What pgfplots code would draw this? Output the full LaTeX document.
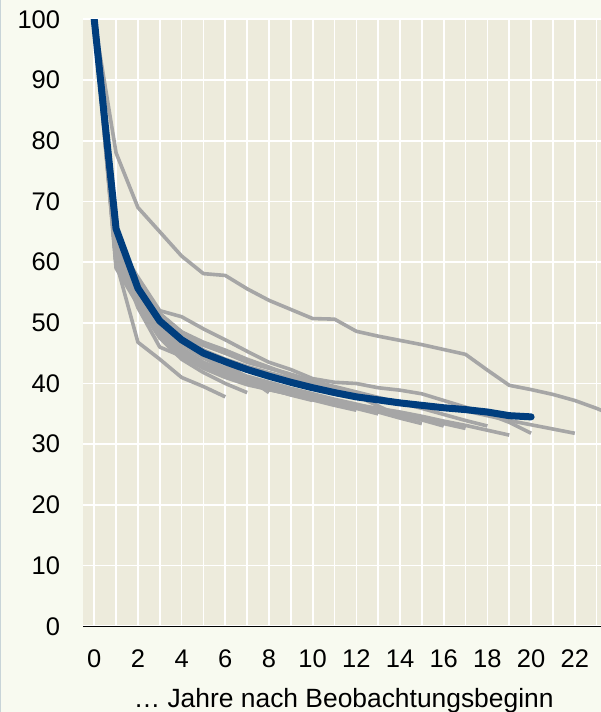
\documentclass[border=0pt]{standalone}
\usepackage{fontspec}
\setmainfont{Liberation Sans}
\usepackage{pgfplots}
\pgfplotsset{compat=1.18}

\definecolor{outerbg}{RGB}{248,250,240}
\definecolor{plotbg}{RGB}{237,235,220}
\definecolor{grayline}{RGB}{166,166,166}
\definecolor{meanblue}{RGB}{0,62,126}
\definecolor{edgeline}{RGB}{200,212,216}
\definecolor{baseline}{RGB}{214,214,214}

\pgfplotsset{
  coh/.style={draw=grayline, line width=3.6pt, line join=round, no marks},
}

\begin{document}
\begin{tikzpicture}
% page = 601 x 712, plot area 517.7 x 607
\path[use as bounding box, fill=outerbg] (-83.3pt,-85.7pt) rectangle (517.7pt,626.3pt);
\draw[edgeline, line width=1.5pt] (-82.55pt,-85.7pt) -- (-82.55pt,626.3pt);
\begin{axis}[
  at={(0,0)}, anchor=south west,
  scale only axis, width=517.7pt, height=607pt,
  xmin=-0.5, xmax=23.2, ymin=0, ymax=100,
  axis line style={draw=none},
  axis background/.style={fill=plotbg},
  xtick={0,2,...,22}, minor xtick={1,3,...,23},
  ytick={0,10,...,100},
  grid=both,
  major grid style={draw=white, line width=1.7pt},
  minor grid style={draw=white, line width=1.7pt},
  major tick length=0pt, minor tick length=0pt,
  /pgf/number format/assume math mode=true,
  tick label style={font=\fontsize{25.5}{30}\selectfont, inner sep=0pt},
  yticklabel style={anchor=east, xshift=-23pt},
  xticklabel style={anchor=north, yshift=-23pt},
  xlabel={… Jahre nach Beobachtungsbeginn},
  xlabel style={font=\fontsize{26.4}{31}\selectfont, at={(axis description cs:0.503,0)},
    anchor=base, yshift=-81pt, inner sep=0pt},
  clip mode=individual,
]
% cohorts (grey)
\addplot[coh] coordinates {(0,100)(1,78)(2,69)(3,65)(4,61)(5,58.1)(6,57.8)(7,55.6)(8,53.7)(9,52.2)(10,50.7)(11,50.6)(12,48.6)(13,47.8)(14,47.1)(15,46.4)(16,45.6)(17,44.8)(18,42.2)(19,39.7)(20,39)(21,38.2)(22,37.2)(23,35.9)(24,34.4)};
\addplot[coh] coordinates {(0,100)(1,62)(2,55.5)(3,50.5)(4,47.5)(5,45.5)(6,44)(7,42.8)(8,41.8)(9,40.8)(10,39.8)(11,39)(12,38.2)(13,37.5)(14,37)(15,36.5)(16,36)(17,35.5)(18,34.7)(19,33.9)(20,33.2)(21,32.5)(22,31.8)};
\addplot[coh] coordinates {(0,100)(1,63.5)(2,57.5)(3,52)(4,51)(5,49)(6,47.2)(7,45.3)(8,43.5)(9,42.3)(10,40.8)(11,40.2)(12,40)(13,39.3)(14,38.9)(15,38.3)(16,37.2)(17,36.1)(18,35)(19,33.6)(20,31.8)};
\addplot[coh] coordinates {(0,100)(1,60)(2,54)(3,49)(4,45.5)(5,43.2)(6,41.6)(7,40.3)(8,39.3)(9,38.5)(10,37.8)(11,37.1)(12,36.5)(13,35.9)(14,35.3)(15,34.6)(16,33.8)(17,33.1)(18,32.3)(19,31.5)};
\addplot[coh] coordinates {(0,100)(1,61.5)(2,55.5)(3,51)(4,48)(5,46.3)(6,45)(7,43.8)(8,42.6)(9,41.5)(10,40.4)(11,39.5)(12,38.6)(13,37.7)(14,36.8)(15,35.9)(16,34.9)(17,33.9)(18,33)};
\addplot[coh] coordinates {(0,100)(1,61)(2,53.5)(3,48.5)(4,45)(5,42.8)(6,41.3)(7,40)(8,39)(9,38.2)(10,37.5)(11,36.8)(12,36.2)(13,35.5)(14,34.8)(15,34.1)(16,33.4)(17,32.6)};
\addplot[coh] coordinates {(0,100)(1,62.5)(2,55)(3,50)(4,46.5)(5,44.2)(6,42.5)(7,41.2)(8,40.2)(9,39.2)(10,38.3)(11,37.4)(12,36.6)(13,35.7)(14,34.8)(15,34)(16,33)};
\addplot[coh] coordinates {(0,100)(1,60.5)(2,54.5)(3,49.5)(4,45.8)(5,43.5)(6,42)(7,40.6)(8,39.5)(9,38.6)(10,37.8)(11,37)(12,36.2)(13,35.3)(14,34.3)(15,33.4)};
\addplot[coh] coordinates {(0,100)(1,64)(2,56.5)(3,51.5)(4,48.5)(5,46.5)(6,45)(7,43.5)(8,42.5)(9,41.5)(10,40.3)(11,39.3)(12,38)(13,36.3)(14,34.6)};
\addplot[coh] coordinates {(0,100)(1,59.5)(2,53)(3,48)(4,44.5)(5,42.5)(6,41)(7,39.8)(8,39)(9,38.2)(10,37.5)(11,36.8)(12,35.9)(13,35)};
\addplot[coh] coordinates {(0,100)(1,61.5)(2,54)(3,49)(4,45)(5,43)(6,41.5)(7,40.3)(8,39.3)(9,38.3)(10,37.3)(11,36.4)(12,35.6)};
\addplot[coh] coordinates {(0,100)(1,63)(2,56.5)(3,51.5)(4,48.5)(5,46.8)(6,45.5)(7,44)(8,42.7)(9,41.3)(10,40.2)(11,39.2)};
\addplot[coh] coordinates {(0,100)(1,60)(2,53.5)(3,48.5)(4,45)(5,43)(6,41.5)(7,40.2)(8,39.2)(9,38.1)(10,37.2)};
\addplot[coh] coordinates {(0,100)(1,62)(2,55.5)(3,50)(4,46.5)(5,44.3)(6,42.5)(7,41)(8,39.7)(9,38.5)};
\addplot[coh] coordinates {(0,100)(1,64)(2,57)(3,51.5)(4,48)(5,45.5)(6,43.2)(7,41)(8,38.5)};
\addplot[coh] coordinates {(0,100)(1,59)(2,53)(3,47.5)(4,44)(5,41.8)(6,40)(7,38.5)};
\addplot[coh] coordinates {(0,100)(1,60)(2,46.8)(3,44)(4,41)(5,39.5)(6,37.8)};
\addplot[coh] coordinates {(0,100)(1,62)(2,52.5)(3,46)(4,44.5)(5,43)(6,41.8)(7,40.7)(8,39.8)(9,39)(10,38.2)};
% mean (blue)
\addplot[draw=meanblue, line width=7pt, line join=round, line cap=round, no marks] coordinates {(0,100)(1,65.5)(2,55.7)(3,50.3)(4,47.2)(5,45)(6,43.6)(7,42.3)(8,41.2)(9,40.2)(10,39.3)(11,38.5)(12,37.8)(13,37.3)(14,36.8)(15,36.4)(16,36)(17,35.7)(18,35.3)(19,34.7)(20,34.5)};
\draw[baseline, line width=1.5pt] (rel axis cs:0,0) -- (rel axis cs:1,0);
\end{axis}
\end{tikzpicture}
\end{document}
